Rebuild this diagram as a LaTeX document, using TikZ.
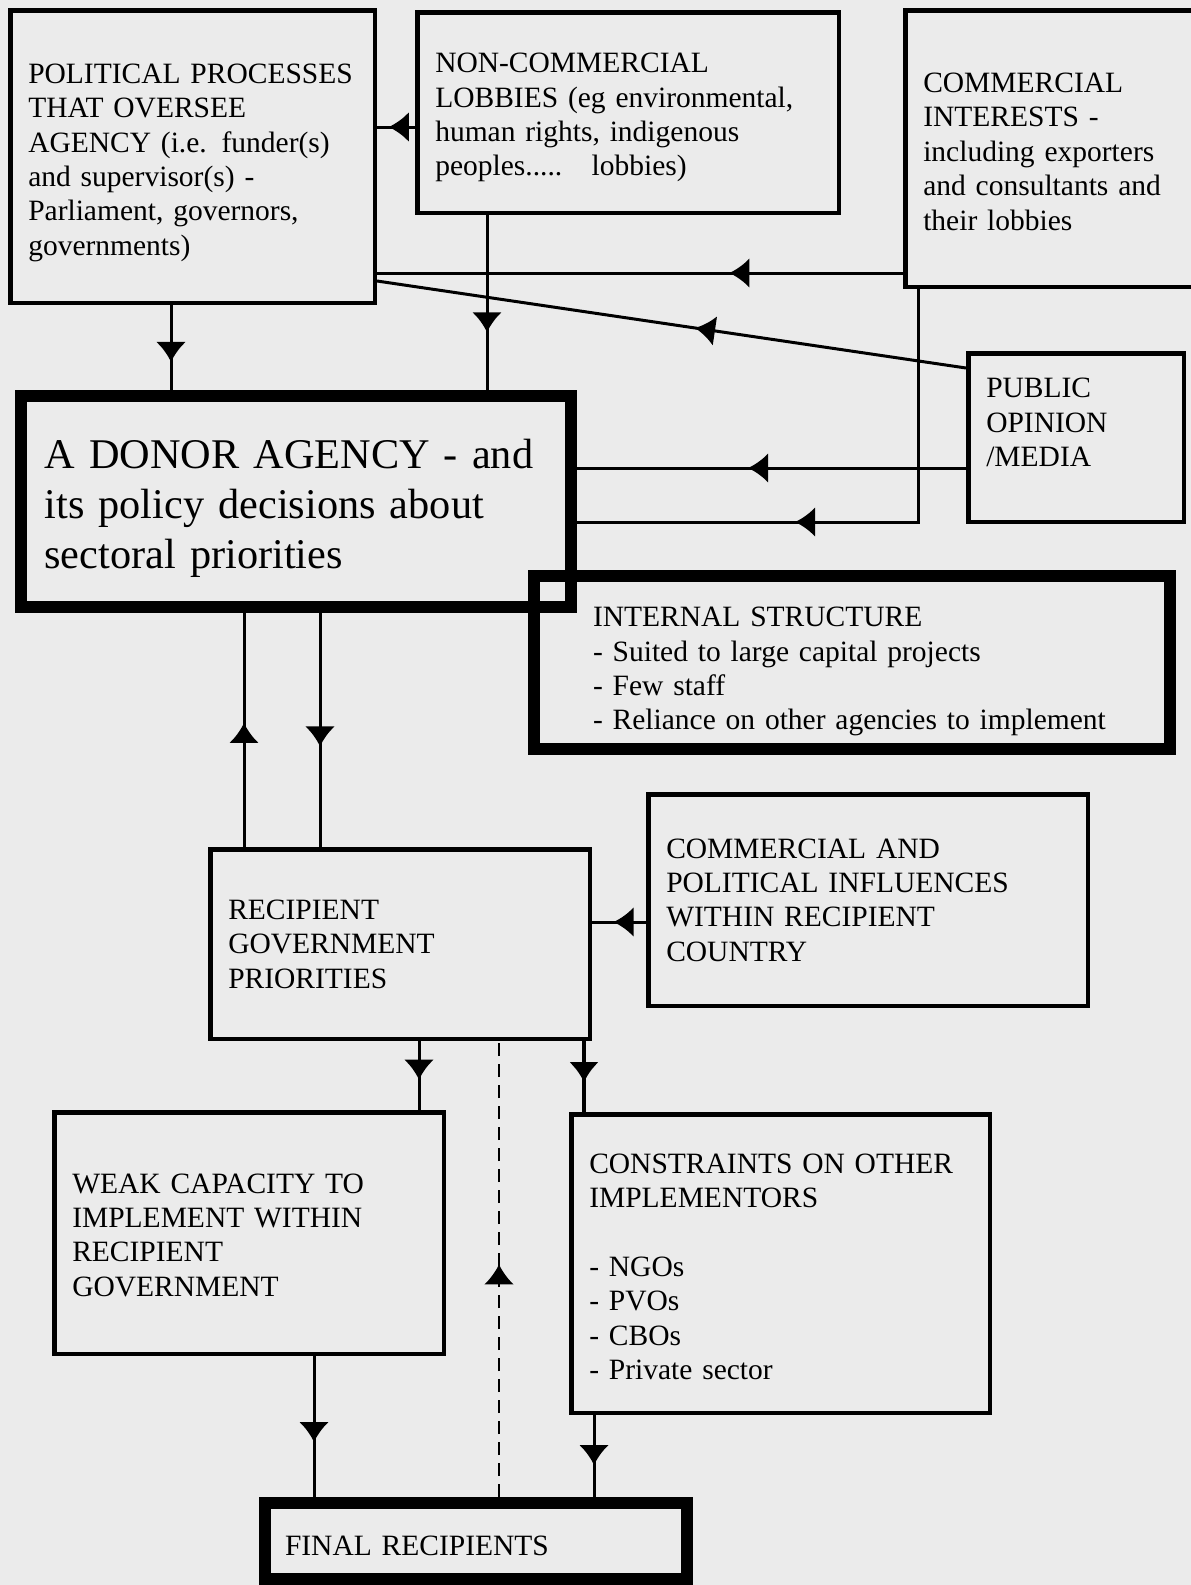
\documentclass[tikz,border=0pt]{standalone}
\usepackage{fontspec}
\setmainfont{Liberation Serif}
\usetikzlibrary{arrows.meta,decorations.markings}
\definecolor{paper}{RGB}{235,235,235}
\begin{document}
\begin{tikzpicture}
[
    x=1pt, y=-1pt,
    box/.style={draw, line width=4.5pt, anchor=north west, align=left, inner xsep=18pt, inner ysep=0pt, font=\fontsize{29.5}{34.4}\selectfont},
    heavy/.style={box, line width=12pt},
    link/.style={line width=3pt},
    arr/.style={link, postaction={decorate}, decoration={markings, mark=at position #1 with {\arrow{Latex[length=20pt,width=30pt]}}}},
]
\path[use as bounding box, fill=paper] (0,0) rectangle (1191,1585);
\node[box, minimum width=364.5pt, minimum height=292.5pt, text width=328.5pt] (pol) at (8,8)
    {\rule{0pt}{32pt}POLITICAL PROCESSES\\ THAT OVERSEE\\ AGENCY (i.e. funder(s)\\ and supervisor(s) -\\ Parliament, governors,\\ governments)};
\node[box, minimum width=421.5pt, minimum height=200.5pt, text width=385.5pt] (noncom) at (415,10)
    {\rule{0pt}{30pt}NON-COMMERCIAL\\ LOBBIES (eg environmental,\\ human rights, indigenous\\ peoples.....\ \ \ lobbies)};
\node[box, minimum width=297.5pt, minimum height=276.5pt, text width=261.5pt] (comm) at (903,8)
    {\rule{0pt}{26pt}COMMERCIAL\\ INTERESTS -\\ including exporters\\ and consultants and\\ their lobbies};
\node[box, minimum width=215.5pt, minimum height=168.5pt, text width=179.5pt] (pub) at (966,351)
    {PUBLIC\\ OPINION\\ /MEDIA\rule[-30pt]{0pt}{30pt}};
\node[heavy, minimum width=550pt, minimum height=211pt, text width=503pt, inner xsep=23.5pt,
    font=\fontsize{42.3}{50}\selectfont] (donor) at (15,390)
    {\rule{0pt}{43pt}A DONOR AGENCY - and\\ its policy decisions about\\ sectoral priorities};
\node[heavy, minimum width=636pt, minimum height=173pt, text width=518pt, inner xsep=59pt] (internal) at (528,570)
    {\rule{0pt}{38pt}INTERNAL STRUCTURE\\ - Suited to large capital projects\\ - Few staff\\ - Reliance on other agencies to implement};
\node[box, minimum width=439.5pt, minimum height=211.5pt, text width=403.5pt] (cpi) at (646,792)
    {COMMERCIAL AND\\ POLITICAL INFLUENCES\\ WITHIN RECIPIENT\\ COUNTRY};
\node[box, minimum width=379.5pt, minimum height=189.5pt, text width=343.5pt] (rgp) at (208,847)
    {RECIPIENT\\ GOVERNMENT\\ PRIORITIES};
\node[box, minimum width=389.5pt, minimum height=241.5pt, text width=353.5pt] (weak) at (52,1110)
    {\rule{0pt}{24pt}WEAK CAPACITY TO\\ IMPLEMENT WITHIN\\ RECIPIENT\\ GOVERNMENT};
\node[box, minimum width=418.5pt, minimum height=298.5pt, text width=382.5pt] (cons) at (569,1112)
    {\rule{0pt}{26pt}CONSTRAINTS ON OTHER\\ IMPLEMENTORS\\[34.4pt] - NGOs\\ - PVOs\\ - CBOs\\ - Private sector};
\node[heavy, minimum width=422pt, minimum height=76pt, text width=382pt, inner xsep=20pt] (final) at (259,1497)
    {\rule{0pt}{30pt}FINAL RECIPIENTS};

\draw[arr=0.69] (noncom.west |- 0,127) -- (pol.east |- 0,127);
\draw[arr=0.33] (comm.west |- 0,273) -- (pol.east |- 0,273);
\draw[arr=0.46] (pub.west |- 0,368) -- (pol.east |- 0,281);
\draw[arr=0.67] (pol.south -| 171,0) -- (donor.north -| 171,0);
\draw[arr=0.67] (noncom.south -| 487,0) -- (donor.north -| 487,0);
\draw[arr=0.56] (pub.west |- 0,468) -- (donor.east |- 0,468);
\draw[arr=0.62] (comm.south -| 918,0) |- (donor.east |- 0,522);
\draw[arr=0.53] (rgp.north -| 244,0) -- (donor.south -| 244,0);
\draw[arr=0.57] (donor.south -| 320,0) -- (rgp.north -| 320,0);
\draw[arr=0.6] (cpi.west |- 0,922) -- (rgp.east |- 0,922);
\draw[arr=0.56] (rgp.south -| 419,0) -- (weak.north -| 419,0);
\draw[arr=0.58, line width=4pt] (rgp.south -| 584,0) -- (cons.north -| 584,0);
\draw[arr=0.51, line width=2.5pt, dash pattern=on 13pt off 8pt] (final.north -| 499,0) -- (rgp.south -| 499,0);
\draw[arr=0.61] (weak.south -| 314,0) -- (final.north -| 314,0);
\draw[arr=0.61] (cons.south -| 594,0) -- (final.north -| 594,0);
\end{tikzpicture}
\end{document}
